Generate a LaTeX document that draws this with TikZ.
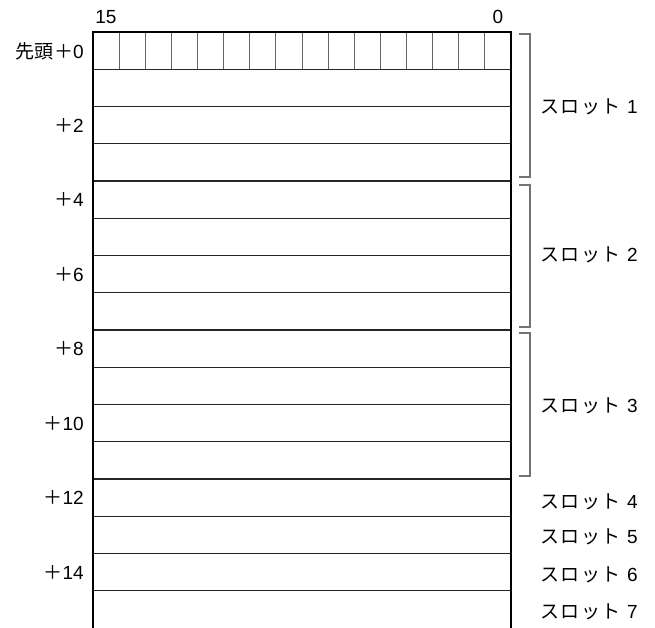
\documentclass[tikz,border=0pt]{standalone}
\usepackage{fontspec}
\setmainfont{Liberation Sans}
\newfontfamily\cjk{Noto Sans CJK JP}
\newcommand\jp[1]{{\cjk\fontsize{19}{22}\selectfont #1}}
\newcommand\slotlbl[1]{\jp{ス\hspace{1.5pt}ロ\hspace{1.5pt}ッ\hspace{1.5pt}ト}\hspace{6.5pt}#1}
\tikzset{
  lbl/.style={inner sep=0pt, font=\fontsize{19}{21}\selectfont},
  rowline/.style={line width=1.1pt, draw=black!85},
  border/.style={line width=2.2pt, draw=black},
  bitline/.style={line width=1pt, draw=black!60},
  brk/.style={line width=1.2pt, draw=black!55}
}
\begin{document}
\begin{tikzpicture}[x=1pt,y=-1pt]
\useasboundingbox (0,0) rectangle (655,628);
% row lines
\foreach \k in {1,...,15}{
  \draw[rowline] (93,{32+\k*37.25}) -- (511,{32+\k*37.25});
}
% bit separators
\foreach \j in {1,...,15}{
  \draw[bitline] ({93+\j*26.125},32) -- ({93+\j*26.125},69.25);
}
% borders
\draw[border] (93,628) -- (93,32) -- (511,32) -- (511,628);
% bit labels
\node[lbl] (b15) at (106,17) {15};
\node[lbl] (b0) at (498,17) {0};
% offset labels
\node[lbl, anchor=east] (o0) at (84,51) {\jp{先頭\hspace{1pt}＋}0};
\foreach \n in {2,4,...,14}{
  \node[lbl, anchor=east] (o\n) at (84,{32+(\n+0.5)*37.25}) {\jp{＋}\n};
}
% brackets
\draw[brk] (519,34) -- (530,34) -- (530,177) -- (519,177);
\draw[brk] (519,185) -- (530,185) -- (530,327) -- (519,327);
\draw[brk] (519,333) -- (530,333) -- (530,476) -- (519,476);
% slot labels
\node[lbl, anchor=west] (s1) at (540,107) {\slotlbl{1}};
\node[lbl, anchor=west] (s2) at (540,255) {\slotlbl{2}};
\node[lbl, anchor=west] (s3) at (540,406) {\slotlbl{3}};
\node[lbl, anchor=west] (s4) at (540,502) {\slotlbl{4}};
\node[lbl, anchor=west] (s5) at (540,537) {\slotlbl{5}};
\node[lbl, anchor=west] (s6) at (540,575) {\slotlbl{6}};
\node[lbl, anchor=west] (s7) at (540,612) {\slotlbl{7}};
\end{tikzpicture}
\end{document}
